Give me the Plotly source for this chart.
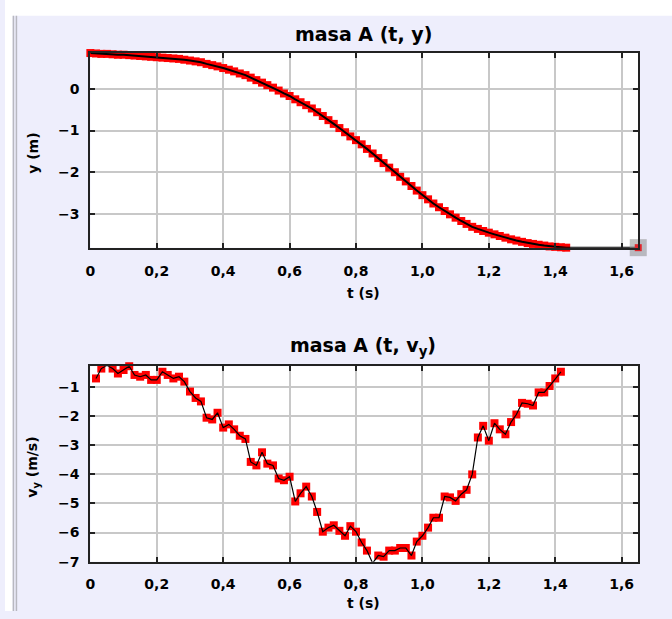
import plotly.graph_objects as go

# Frame times (s) for the position samples of mass A
t_pos = [
    0.000, 0.017, 0.033, 0.050, 0.067, 0.083, 0.100, 0.117, 0.133, 0.150,
    0.167, 0.183, 0.200, 0.217, 0.233, 0.250, 0.267, 0.283, 0.300, 0.317,
    0.333, 0.350, 0.367, 0.383, 0.400, 0.417, 0.433, 0.450, 0.467, 0.483,
    0.500, 0.517, 0.533, 0.550, 0.567, 0.583, 0.600, 0.617, 0.633, 0.650,
    0.667, 0.683, 0.700, 0.717, 0.733, 0.750, 0.767, 0.783, 0.800, 0.817,
    0.833, 0.850, 0.867, 0.883, 0.900, 0.917, 0.933, 0.950, 0.967, 0.983,
    1.000, 1.017, 1.033, 1.050, 1.067, 1.083, 1.100, 1.117, 1.133, 1.150,
    1.167, 1.183, 1.200, 1.217, 1.233, 1.250, 1.267, 1.283, 1.300, 1.317,
    1.333, 1.350, 1.367, 1.383, 1.400, 1.417, 1.433,
]
# Vertical position y (m)
y_pos = [
    0.86, 0.85, 0.84, 0.84, 0.83, 0.82, 0.82, 0.81, 0.80, 0.79,
    0.78, 0.77, 0.76, 0.75, 0.74, 0.73, 0.72, 0.70, 0.68, 0.66,
    0.64, 0.60, 0.57, 0.54, 0.50, 0.46, 0.42, 0.37, 0.33, 0.27,
    0.21, 0.15, 0.09, 0.03, -0.04, -0.11, -0.17, -0.25, -0.32, -0.39,
    -0.47, -0.56, -0.65, -0.75, -0.84, -0.94, -1.04, -1.14, -1.23, -1.33,
    -1.44, -1.55, -1.66, -1.78, -1.89, -2.00, -2.11, -2.22, -2.33, -2.44,
    -2.55, -2.65, -2.75, -2.84, -2.93, -3.01, -3.09, -3.17, -3.24, -3.31,
    -3.36, -3.41, -3.45, -3.49, -3.53, -3.57, -3.61, -3.64, -3.67, -3.70,
    -3.72, -3.74, -3.76, -3.78, -3.79, -3.80, -3.81,
]
# Last tracked (selected) point
t_sel = [1.650]
y_sel = [-3.81]

# Frame times (s) for the velocity samples
t_vel = [
    0.017, 0.033, 0.050, 0.067, 0.083, 0.100, 0.117, 0.133, 0.150,
    0.167, 0.183, 0.200, 0.217, 0.233, 0.250, 0.267, 0.283, 0.300, 0.317,
    0.333, 0.350, 0.367, 0.383, 0.400, 0.417, 0.433, 0.450, 0.467, 0.483,
    0.500, 0.517, 0.533, 0.550, 0.567, 0.583, 0.600, 0.617, 0.633, 0.650,
    0.667, 0.683, 0.700, 0.717, 0.733, 0.750, 0.767, 0.783, 0.800, 0.817,
    0.833, 0.850, 0.867, 0.883, 0.900, 0.917, 0.933, 0.950, 0.967, 0.983,
    1.000, 1.017, 1.033, 1.050, 1.067, 1.083, 1.100, 1.117, 1.133, 1.150,
    1.167, 1.183, 1.200, 1.217, 1.233, 1.250, 1.267, 1.283, 1.300, 1.317,
    1.333, 1.350, 1.367, 1.383, 1.400, 1.417,
]
# Vertical velocity vy (m/s)
v_y = [
    -0.70, -0.36, -0.25, -0.36, -0.53, -0.41, -0.28, -0.58, -0.64,
    -0.58, -0.75, -0.75, -0.47, -0.58, -0.70, -0.64, -0.81, -1.15, -1.37,
    -1.49, -2.05, -2.11, -1.88, -2.39, -2.28, -2.45, -2.67, -2.78, -3.57,
    -3.69, -3.24, -3.63, -3.69, -4.14, -4.20, -4.08, -4.93, -4.65, -4.42,
    -4.76, -5.29, -5.97, -5.83, -5.75, -5.94, -6.11, -5.78, -5.97, -6.34,
    -6.62, -7.05, -6.79, -6.83, -6.62, -6.62, -6.53, -6.53, -6.79, -6.31,
    -6.11, -5.83, -5.49, -5.49, -4.76, -4.79, -4.91, -4.68, -4.53, -4.00,
    -2.73, -2.33, -2.84, -2.24, -2.45, -2.62, -2.20, -1.94, -1.54, -1.57,
    -1.63, -1.18, -1.18, -0.96, -0.70, -0.47,
]

# Axis ticks
x_ticks = [0, 0.2, 0.4, 0.6, 0.8, 1.0, 1.2, 1.4, 1.6]
x_tick_text = ["0", "0,2", "0,4", "0,6", "0,8", "1,0", "1,2", "1,4", "1,6"]
y_ticks = [-3, -2, -1, 0]
y_tick_text = ["\u22123", "\u22122", "\u22121", "0"]
v_ticks = [-7, -6, -5, -4, -3, -2, -1]
v_tick_text = ["\u22127", "\u22126", "\u22125", "\u22124", "\u22123", "\u22122", "\u22121"]

W, H = 672, 619
BG = "#EEEEFC"
RED = "#FF0000"
FONT = "DejaVu Sans"


def px_x(p):
    return p / W


def px_y(p):
    return 1 - p / H


fig = go.Figure()

# Top panel: y(t)
fig.add_trace(go.Scatter(x=t_pos, y=y_pos, mode="markers", xaxis="x", yaxis="y",
                         marker=dict(symbol="square", size=8, color=RED),
                         cliponaxis=False, hoverinfo="skip"))
fig.add_trace(go.Scatter(x=t_pos + t_sel, y=y_pos + y_sel, mode="lines", xaxis="x", yaxis="y",
                         line=dict(color="black", width=2), cliponaxis=False))
fig.add_trace(go.Scatter(x=t_sel, y=y_sel, mode="markers", xaxis="x", yaxis="y",
                         marker=dict(symbol="square", size=17, color="rgba(140,140,140,0.55)"),
                         cliponaxis=False))
fig.add_trace(go.Scatter(x=t_sel, y=y_sel, mode="markers", xaxis="x", yaxis="y",
                         marker=dict(symbol="square", size=7, color="#E0242B"),
                         cliponaxis=False))

# Bottom panel: vy(t)
fig.add_trace(go.Scatter(x=t_vel, y=v_y, mode="markers", xaxis="x2", yaxis="y2",
                         marker=dict(symbol="square", size=8, color=RED),
                         cliponaxis=False))
fig.add_trace(go.Scatter(x=t_vel, y=v_y, mode="lines", xaxis="x2", yaxis="y2",
                         line=dict(color="black", width=1.2), cliponaxis=False))

tickfont = dict(family=FONT, size=14, color="black", weight="bold")
common_axis = dict(
    showline=True, linecolor="#222222", linewidth=2, mirror="allticks",
    ticks="inside", ticklen=5, tickwidth=2, tickcolor="#222222",
    showgrid=True, gridcolor="#C8C8C8", gridwidth=1.5,
    zeroline=False, tickfont=tickfont,
)

x_dom = [px_x(86), px_x(638)]
fig.update_layout(
    width=W, height=H,
    margin=dict(l=0, r=0, t=0, b=0),
    paper_bgcolor=BG, plot_bgcolor="white",
    showlegend=False,
    xaxis=dict(domain=x_dom, range=[0, 1.65], anchor="y",
               tickvals=x_ticks, ticktext=x_tick_text, ticklabelstandoff=9, **common_axis),
    yaxis=dict(domain=[px_y(251), px_y(53.7)], range=[-3.812, 0.861], anchor="x",
               tickvals=y_ticks, ticktext=y_tick_text, ticklabelstandoff=6, **common_axis),
    xaxis2=dict(domain=x_dom, range=[0, 1.65], anchor="y2",
                tickvals=x_ticks, ticktext=x_tick_text, ticklabelstandoff=9, **common_axis),
    yaxis2=dict(domain=[px_y(569), px_y(371)], range=[-7.0, -0.279], anchor="x2",
                tickvals=v_ticks, ticktext=v_tick_text, ticklabelstandoff=6, **common_axis),
)

titlefont = dict(family=FONT, size=19, color="black", weight="bold")
labelfont = dict(family=FONT, size=14, color="black", weight="bold")
annotations = [
    dict(text="masa A (t, y)", x=px_x(361), y=px_y(34), font=titlefont),
    dict(text="masa A (t, v<sub>y</sub>)", x=px_x(361), y=px_y(351), font=titlefont),
    dict(text="t (s)", x=px_x(361), y=px_y(297), font=labelfont),
    dict(text="t (s)", x=px_x(361), y=px_y(611), font=labelfont),
    dict(text="y (m)", x=px_x(28), y=px_y(155), font=labelfont, textangle=-90),
    dict(text="v<sub>y</sub> (m/s)", x=px_x(28), y=px_y(473), font=labelfont, textangle=-90),
]
for a in annotations:
    a.update(xref="paper", yref="paper", showarrow=False, xanchor="center", yanchor="middle")
fig.update_layout(annotations=annotations)

# Window frame: white strip at the top and left, with a double grey edge
fig.update_layout(shapes=[
    dict(type="rect", xref="paper", yref="paper", x0=0, x1=1, y0=px_y(16), y1=1,
         fillcolor="white", line_width=0, layer="below"),
    dict(type="rect", xref="paper", yref="paper", x0=0, x1=px_x(7.5), y0=0, y1=1,
         fillcolor="white", line_width=0, layer="below"),
    dict(type="line", xref="paper", yref="paper", x0=px_x(8.5), x1=px_x(8.5), y0=0, y1=px_y(16),
         line=dict(color="#B8B8C0", width=1.5)),
    dict(type="line", xref="paper", yref="paper", x0=px_x(11.5), x1=px_x(11.5), y0=0, y1=px_y(16),
         line=dict(color="#B8B8C0", width=1.5)),
])

fig.write_html("out.html")
